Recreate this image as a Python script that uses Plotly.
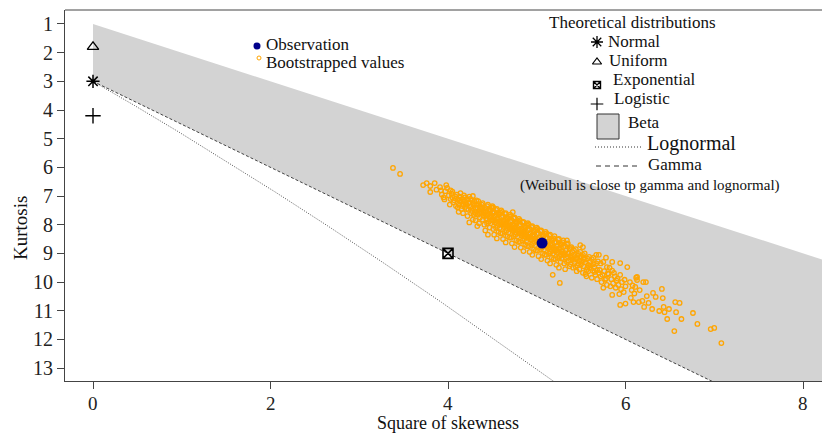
import plotly.graph_objects as go

# ---------------- data ----------------
observation_s2 = [5.06]
observation_kurt = [8.64]

normal_pt = (0.0, 3.0)
uniform_pt = (0.0, 1.8)
exponential_pt = (4.0, 9.0)
logistic_pt = (0.0, 4.2)

# Beta region corners (square of skewness, kurtosis)
beta_s2 = [0.0, 9.0, 9.0, 0.0]
beta_kurt = [1.0, 10.0, 16.5, 3.0]

# Lognormal curve
lognormal_s2 = [0.0, 0.182, 0.465, 0.961, 1.488, 2.048, 2.641, 3.267, 3.928, 4.624, 5.356]
lognormal_kurt = [3.0, 3.326, 3.838, 4.756, 5.758, 6.85, 8.035, 9.32, 10.71, 12.21, 13.825]

# Gamma line (dashed)
gamma_s2 = [0.0, 7.2]
gamma_kurt = [3.0, 13.8]

xtick_vals = [0, 2, 4, 6, 8]
ytick_vals = list(range(1, 14))

bootstrap_points = [
    (3.38, 6.02), (3.46, 6.23), (3.72, 6.62), (3.76, 6.55), (3.80, 6.65), (3.85, 6.55), (3.80, 6.86), (3.87, 6.78),
    (3.91, 6.69), (3.99, 6.72), (3.93, 6.95), (3.97, 6.83), (3.95, 7.05), (3.98, 6.62), (3.92, 6.80), (3.96, 7.12),
    (4.01, 6.98), (4.03, 7.10), (4.05, 6.85), (4.06, 7.22), (4.08, 7.01), (4.02, 7.30), (4.04, 6.92), (4.07, 7.15),
    (4.09, 7.35), (4.05, 7.05), (4.10, 6.95), (4.03, 6.80),
    (4.11, 7.12), (4.12, 7.30), (4.13, 7.02), (4.14, 7.20), (4.15, 7.45), (4.16, 7.10), (4.17, 7.28), (4.18, 6.98),
    (4.19, 7.38), (4.12, 7.55), (4.14, 6.90), (4.16, 7.35), (4.18, 7.18), (4.20, 7.25), (4.11, 7.40), (4.13, 7.15),
    (4.17, 7.60), (4.19, 7.05),
    (4.21, 7.30), (4.22, 7.12), (4.23, 7.48), (4.24, 7.22), (4.25, 7.38), (4.26, 7.60), (4.27, 7.15), (4.28, 7.42),
    (4.29, 7.28), (4.30, 7.55), (4.22, 7.70), (4.24, 7.02), (4.26, 7.35), (4.28, 7.82), (4.21, 7.45), (4.23, 7.25),
    (4.25, 7.10), (4.27, 7.52), (4.29, 7.65), (4.30, 7.20), (4.24, 7.92), (4.28, 7.00),
    (4.31, 7.45), (4.32, 7.30), (4.33, 7.62), (4.34, 7.18), (4.35, 7.50), (4.36, 7.75), (4.37, 7.38), (4.38, 7.58),
    (4.39, 7.25), (4.40, 7.68), (4.31, 7.85), (4.33, 7.40), (4.35, 7.95), (4.37, 7.55), (4.39, 7.82), (4.32, 7.15),
    (4.34, 7.65), (4.36, 7.42), (4.38, 7.30), (4.40, 7.52), (4.33, 8.05), (4.36, 7.60), (4.39, 7.45), (4.35, 7.28),
    (4.31, 7.60),
    (4.41, 7.60), (4.42, 7.42), (4.43, 7.78), (4.44, 7.35), (4.45, 7.65), (4.46, 7.90), (4.47, 7.52), (4.48, 7.72),
    (4.49, 7.40), (4.50, 7.85), (4.41, 8.00), (4.42, 7.70), (4.43, 7.55), (4.44, 7.95), (4.45, 7.30), (4.46, 7.62),
    (4.47, 8.10), (4.48, 7.48), (4.49, 7.68), (4.50, 7.58), (4.42, 8.20), (4.44, 7.82), (4.46, 7.45), (4.48, 7.95),
    (4.50, 7.35), (4.43, 7.65), (4.47, 7.75), (4.45, 8.35),
    (4.51, 7.75), (4.52, 7.55), (4.53, 7.92), (4.54, 7.48), (4.55, 7.80), (4.56, 8.05), (4.57, 7.65), (4.58, 7.88),
    (4.59, 7.58), (4.60, 8.00), (4.51, 8.15), (4.52, 7.85), (4.53, 7.70), (4.54, 8.10), (4.55, 7.45), (4.56, 7.78),
    (4.57, 8.25), (4.58, 7.62), (4.59, 7.95), (4.60, 7.72), (4.52, 8.35), (4.54, 7.90), (4.56, 7.60), (4.58, 8.12),
    (4.60, 7.50), (4.53, 7.82), (4.57, 7.98), (4.55, 8.48), (4.59, 8.30), (4.51, 7.40), (4.73, 7.56),
    (4.61, 7.90), (4.62, 7.70), (4.63, 8.08), (4.64, 7.62), (4.65, 7.95), (4.66, 8.20), (4.67, 7.80), (4.68, 8.02),
    (4.69, 7.72), (4.70, 8.15), (4.61, 8.30), (4.62, 8.00), (4.63, 7.85), (4.64, 8.25), (4.65, 7.60), (4.66, 7.92),
    (4.67, 8.40), (4.68, 7.78), (4.69, 8.10), (4.70, 7.88), (4.62, 8.50), (4.64, 8.05), (4.66, 7.75), (4.68, 8.28),
    (4.70, 7.65), (4.63, 7.98), (4.67, 8.12), (4.65, 8.62), (4.69, 8.45), (4.61, 7.55), (4.66, 8.05), (4.64, 7.88),
    (4.71, 8.05), (4.72, 7.85), (4.73, 8.22), (4.74, 7.78), (4.75, 8.10), (4.76, 8.35), (4.77, 7.95), (4.78, 8.18),
    (4.79, 7.88), (4.80, 8.30), (4.71, 8.45), (4.72, 8.15), (4.73, 8.00), (4.74, 8.40), (4.75, 7.75), (4.76, 8.08),
    (4.77, 8.55), (4.78, 7.92), (4.79, 8.25), (4.80, 8.02), (4.72, 8.65), (4.74, 8.20), (4.76, 7.90), (4.78, 8.42),
    (4.80, 7.80), (4.73, 8.12), (4.77, 8.28), (4.75, 8.78), (4.79, 8.60), (4.71, 7.70), (4.76, 8.20), (4.74, 8.02),
    (4.81, 8.20), (4.82, 8.00), (4.83, 8.38), (4.84, 7.92), (4.85, 8.25), (4.86, 8.50), (4.87, 8.10), (4.88, 8.32),
    (4.89, 8.02), (4.90, 8.45), (4.81, 8.60), (4.82, 8.30), (4.83, 8.15), (4.84, 8.55), (4.85, 7.90), (4.86, 8.22),
    (4.87, 8.70), (4.88, 8.08), (4.89, 8.40), (4.90, 8.18), (4.82, 8.80), (4.84, 8.35), (4.86, 8.05), (4.88, 8.58),
    (4.90, 7.95), (4.83, 8.28), (4.87, 8.42), (4.85, 8.92), (4.89, 8.75), (4.81, 7.85), (4.86, 8.35), (4.84, 8.18),
    (4.91, 8.35), (4.92, 8.15), (4.93, 8.52), (4.94, 8.08), (4.95, 8.40), (4.96, 8.65), (4.97, 8.25), (4.98, 8.48),
    (4.99, 8.18), (5.00, 8.60), (4.91, 8.75), (4.92, 8.45), (4.93, 8.30), (4.94, 8.70), (4.95, 8.05), (4.96, 8.38),
    (4.97, 8.85), (4.98, 8.22), (4.99, 8.55), (5.00, 8.32), (4.92, 8.95), (4.94, 8.50), (4.96, 8.20), (4.98, 8.72),
    (5.00, 8.10), (4.93, 8.42), (4.97, 8.58), (4.95, 9.05), (4.99, 8.90), (4.91, 8.00),
    (5.01, 8.50), (5.02, 8.30), (5.03, 8.68), (5.04, 8.22), (5.05, 8.55), (5.06, 8.80), (5.07, 8.40), (5.08, 8.62),
    (5.09, 8.32), (5.10, 8.75), (5.01, 8.90), (5.02, 8.60), (5.03, 8.45), (5.04, 8.85), (5.05, 8.20), (5.06, 8.52),
    (5.07, 9.00), (5.08, 8.38), (5.09, 8.70), (5.10, 8.48), (5.02, 9.10), (5.04, 8.65), (5.06, 8.35), (5.08, 8.88),
    (5.10, 8.25), (5.03, 8.58), (5.07, 8.72), (5.05, 9.20), (5.09, 9.05), (5.01, 8.15),
    (5.11, 8.65), (5.12, 8.45), (5.13, 8.82), (5.14, 8.38), (5.15, 8.70), (5.16, 8.95), (5.17, 8.55), (5.18, 8.78),
    (5.19, 8.48), (5.20, 8.90), (5.11, 9.05), (5.12, 8.75), (5.13, 8.60), (5.14, 9.00), (5.15, 8.35), (5.16, 8.68),
    (5.17, 9.15), (5.18, 8.52), (5.19, 8.85), (5.20, 8.62), (5.12, 9.25), (5.14, 8.80), (5.16, 8.50), (5.18, 9.02),
    (5.20, 8.40), (5.13, 8.72), (5.17, 8.88), (5.15, 9.35), (5.19, 9.20), (5.11, 8.30), (5.18, 9.75), (5.26, 10.03),
    (5.21, 8.82), (5.22, 8.60), (5.23, 8.98), (5.24, 8.52), (5.25, 8.85), (5.26, 9.10), (5.27, 8.70), (5.28, 8.92),
    (5.29, 8.62), (5.30, 9.05), (5.21, 9.20), (5.22, 8.90), (5.23, 8.75), (5.24, 9.15), (5.25, 8.50), (5.26, 8.82),
    (5.27, 9.30), (5.28, 8.68), (5.29, 9.00), (5.30, 8.78), (5.22, 9.40), (5.24, 8.95), (5.26, 8.65), (5.28, 9.18),
    (5.30, 8.55), (5.23, 8.88), (5.27, 9.05), (5.25, 9.50),
    (5.31, 8.98), (5.32, 8.75), (5.33, 9.15), (5.34, 8.68), (5.35, 9.00), (5.36, 9.25), (5.37, 8.85), (5.38, 9.08),
    (5.39, 8.78), (5.40, 9.20), (5.31, 9.35), (5.32, 9.05), (5.33, 8.90), (5.34, 9.30), (5.35, 8.65), (5.36, 8.98),
    (5.37, 9.45), (5.38, 8.82), (5.39, 9.15), (5.40, 8.95), (5.32, 9.55), (5.35, 9.12), (5.38, 9.38), (5.34, 8.55),
    (5.41, 9.12), (5.42, 8.90), (5.43, 9.30), (5.44, 8.85), (5.45, 9.18), (5.46, 9.42), (5.47, 9.02), (5.48, 9.25),
    (5.49, 8.95), (5.50, 9.38), (5.41, 9.50), (5.43, 9.05), (5.45, 9.62), (5.47, 9.35), (5.49, 9.15), (5.42, 9.22),
    (5.44, 9.48), (5.46, 9.08), (5.48, 9.55), (5.50, 9.10), (5.49, 8.71), (5.52, 8.78),
    (5.51, 9.28), (5.52, 9.05), (5.53, 9.45), (5.54, 9.00), (5.55, 9.32), (5.56, 9.58), (5.57, 9.18), (5.58, 9.40),
    (5.59, 9.12), (5.60, 9.52), (5.52, 9.68), (5.54, 9.22), (5.56, 9.80), (5.58, 9.62), (5.60, 9.30), (5.53, 9.15),
    (5.57, 9.50), (5.55, 9.72),
    (5.61, 9.42), (5.62, 9.20), (5.63, 9.60), (5.64, 9.15), (5.65, 9.48), (5.66, 9.75), (5.67, 9.35), (5.68, 9.58),
    (5.69, 9.28), (5.70, 9.68), (5.62, 9.85), (5.65, 9.65), (5.68, 9.90), (5.64, 9.38), (5.67, 9.05), (5.70, 9.05),
    (5.71, 9.58), (5.72, 9.35), (5.74, 9.75), (5.75, 9.30), (5.76, 9.62), (5.78, 9.88), (5.79, 9.48), (5.80, 9.70),
    (5.73, 10.00), (5.77, 9.92), (5.72, 9.80), (5.79, 10.10), (5.78, 9.15), (5.75, 10.20),
    (5.81, 9.72), (5.82, 9.50), (5.84, 9.90), (5.85, 9.60), (5.86, 10.05), (5.88, 9.80), (5.89, 10.20), (5.83, 10.15),
    (5.87, 9.68), (5.90, 9.95), (5.85, 9.30), (5.85, 10.45),
    (5.91, 9.88), (5.92, 10.10), (5.94, 9.75), (5.95, 10.25), (5.96, 10.00), (5.98, 10.35), (5.99, 9.92), (5.93, 10.42),
    (6.00, 10.15), (5.94, 9.34), (6.02, 9.48), (5.94, 10.80), (6.00, 10.75),
    (6.05, 10.00), (6.08, 10.12), (6.12, 9.85), (6.10, 10.40), (6.06, 10.55),
    (6.13, 9.82), (6.13, 9.93), (6.07, 10.28), (6.11, 10.17), (6.20, 10.00), (6.23, 10.00), (6.16, 10.28),
    (6.09, 10.70), (6.15, 10.70), (6.19, 10.66), (6.24, 10.49), (6.31, 10.38), (6.34, 10.52), (6.41, 10.24),
    (6.42, 10.56), (6.26, 10.73), (6.21, 10.87), (6.30, 10.94), (6.38, 11.01), (6.43, 10.87), (6.44, 11.05),
    (6.49, 10.94), (6.56, 10.70), (6.61, 10.73), (6.57, 11.05), (6.47, 11.29), (6.63, 11.29), (6.76, 11.08),
    (6.81, 11.46), (6.55, 11.71), (6.96, 11.64), (7.00, 11.60), (7.08, 12.13),
]
boot_s2 = [p[0] for p in bootstrap_points]
boot_kurt = [p[1] for p in bootstrap_points]

# ---------------- layout constants ----------------
W, H = 822, 434
ML, MR, MT, MB = 65, 0, 10, 53
PW, PH = W - ML - MR, H - MT - MB
FONT = "Liberation Serif, Times New Roman, serif"
AXIS_COLOR = "#444444"


def px(xp):
    return (xp - ML) / PW


def py(yp):
    return (H - MB - yp) / PH


fig = go.Figure()

# Beta region
fig.add_trace(go.Scatter(x=beta_s2, y=beta_kurt, fill="toself", fillcolor="#D3D3D3",
                         mode="none", hoverinfo="skip", showlegend=False))
# Lognormal
fig.add_trace(go.Scatter(x=lognormal_s2, y=lognormal_kurt, mode="lines",
                         line=dict(color="#555555", width=1, dash="1px,1.5px"), showlegend=False))
# Gamma
fig.add_trace(go.Scatter(x=gamma_s2, y=gamma_kurt, mode="lines",
                         line=dict(color="#444444", width=1, dash="3px,2px"), showlegend=False))
# Bootstrapped values
fig.add_trace(go.Scatter(x=boot_s2, y=boot_kurt, mode="markers",
                         marker=dict(symbol="circle-open", size=4.5, color="#FFA500",
                                     line=dict(width=1.3, color="#FFA500")),
                         showlegend=False))
# Observation
fig.add_trace(go.Scatter(x=observation_s2, y=observation_kurt, mode="markers",
                         marker=dict(symbol="circle", size=11, color="#00008B"), showlegend=False))
# Theoretical points
theo = [
    (normal_pt, "asterisk-open", 11, 1.5),
    (uniform_pt, "triangle-up-open", 10, 1.3),
    (exponential_pt, "square-x-open", 10, 1.6),
    (logistic_pt, "cross-thin-open", 11, 1.4),
]
for (pt, sym, sz, lw) in theo:
    fig.add_trace(go.Scatter(x=[pt[0]], y=[pt[1]], mode="markers",
                             marker=dict(symbol=sym, size=sz, color="black",
                                         line=dict(width=lw, color="black")),
                             showlegend=False))

# Legend glyphs on helper pixel axes
glyphs = [
    (257, 46, "circle", 7, "#00008B", 0),
    (259, 58, "circle-open", 4, "#FFA500", 1),
    (597, 42, "asterisk-open", 10, "black", 1.3),
    (597, 62, "triangle-up-open", 8, "black", 1.2),
    (597, 85, "square-x-open", 7, "black", 1.4),
    (597, 104, "cross-thin-open", 9, "black", 1.2),
]
for (gx, gy, sym, sz, col, lw) in glyphs:
    mk = dict(symbol=sym, size=sz, color=col)
    if lw:
        mk["line"] = dict(width=lw, color=col)
    fig.add_trace(go.Scatter(x=[gx], y=[gy], mode="markers", marker=mk,
                             xaxis="x2", yaxis="y2", showlegend=False, hoverinfo="skip"))

annotations = []


def txt(x, y, s, size=17, xanchor="left", textangle=0):
    annotations.append(dict(x=px(x), y=py(y), xref="paper", yref="paper", text=s,
                            showarrow=False, xanchor=xanchor, yanchor="middle",
                            textangle=textangle,
                            font=dict(family=FONT, size=size, color="#111111")))


txt(264, 45, "Observation")
txt(264, 62, "Bootstrapped values")
txt(632, 22, "Theoretical distributions", xanchor="center")
txt(606, 42, "Normal")
txt(607, 61, "Uniform")
txt(611, 80, "Exponential")
txt(612, 99, "Logistic")
txt(626, 122, "Beta")
txt(645, 143, "Lognormal", size=20)
txt(646, 165, "Gamma")
txt(650, 185, "(Weibull is close tp gamma and lognormal)", size=15, xanchor="center")
txt(448, 423, "Square of skewness", size=18, xanchor="center")
txt(20, 228, "Kurtosis", size=19, xanchor="center", textangle=-90)

# x tick labels, placed by the data axis
for v in xtick_vals:
    annotations.append(dict(x=v, y=py(403), xref="x", yref="paper", text=str(v),
                            showarrow=False, xanchor="center", yanchor="middle",
                            font=dict(family=FONT, size=19, color="#222222")))

shapes = [
    # top border of the plot box
    dict(type="line", xref="paper", yref="paper", x0=0, x1=1, y0=1, y1=1,
         line=dict(color=AXIS_COLOR, width=1)),
    # Beta legend box
    dict(type="rect", xref="paper", yref="paper", x0=px(597), x1=px(619), y0=py(139), y1=py(114),
         fillcolor="#D3D3D3", line=dict(color="#333333", width=1)),
    # Lognormal legend line
    dict(type="line", xref="paper", yref="paper", x0=px(595), x1=px(642), y0=py(147), y1=py(147),
         line=dict(color="#333333", width=1, dash="1px,2px")),
    # Gamma legend line
    dict(type="line", xref="paper", yref="paper", x0=px(596), x1=px(641), y0=py(166), y1=py(166),
         line=dict(color="#333333", width=1, dash="5px,4px")),
]

fig.update_layout(
    width=W, height=H,
    margin=dict(l=ML, r=MR, t=MT, b=MB),
    paper_bgcolor="white", plot_bgcolor="white",
    showlegend=False,
    annotations=annotations,
    shapes=shapes,
    xaxis=dict(range=[-0.3155, 8.214], tickvals=xtick_vals, ticks="outside", ticklen=7,
               tickcolor=AXIS_COLOR, showline=True, linecolor=AXIS_COLOR, linewidth=1,
               showgrid=False, zeroline=False, showticklabels=False),
    yaxis=dict(range=[13.452, 0.512], tickvals=ytick_vals, ticks="outside", ticklen=7,
               tickcolor=AXIS_COLOR, showline=True, linecolor=AXIS_COLOR, linewidth=1,
               showgrid=False, zeroline=False,
               tickfont=dict(family=FONT, size=20, color="#222222")),
    xaxis2=dict(range=[ML, W - MR], overlaying="x", visible=False, fixedrange=True),
    yaxis2=dict(range=[H - MB, MT], overlaying="y", visible=False, fixedrange=True),
)

fig.write_html("out.html")
